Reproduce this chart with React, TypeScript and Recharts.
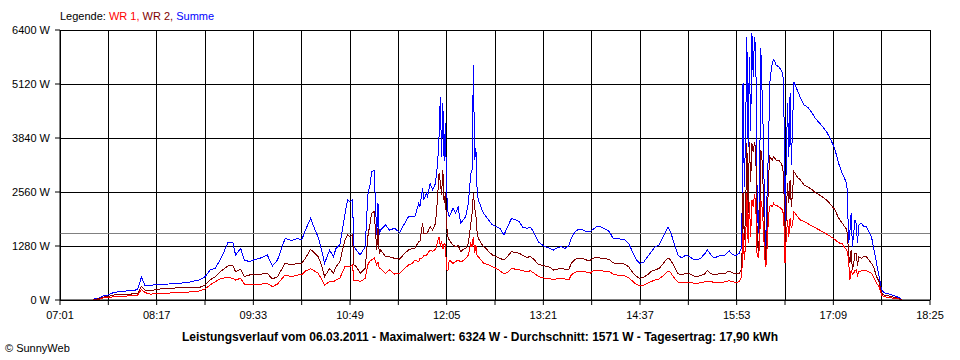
import { ComposedChart, Line, XAxis, YAxis, CartesianGrid, ReferenceLine } from 'recharts';

// Leistungsverlauf 06.03.2011
const times = [
    '07:27', '07:32', '07:35', '07:39', '07:43', '07:48', '07:54', '07:58', '08:02', '08:05',
    '08:08', '08:12', '08:20', '08:27', '08:35', '08:43', '08:51', '08:55', '08:59', '09:03',
    '09:08', '09:13', '09:17', '09:19', '09:23', '09:26', '09:30', '09:34', '09:38', '09:44',
    '09:48', '09:52', '09:58', '10:03', '10:08', '10:11', '10:14', '10:18', '10:20', '10:24',
    '10:27', '10:29', '10:33', '10:36', '10:38', '10:41', '10:45', '10:47', '10:49', '10:51',
    '10:52', '10:54', '10:57', '11:01', '11:03', '11:05', '11:06', '11:08', '11:10', '11:11',
    '11:12', '11:13', '11:17', '11:20', '11:24', '11:28', '11:32', '11:35', '11:38', '11:40',
    '11:43', '11:44', '11:46', '11:47', '11:49', '11:50', '11:52', '11:54', '11:56', '11:57',
    '11:58', '11:59', '12:00', '12:01', '12:02', '12:03', '12:04', '12:05', '12:06', '12:07',
    '12:10', '12:12', '12:14', '12:16', '12:18', '12:20', '12:22', '12:24', '12:25', '12:26',
    '12:27', '12:28', '12:29', '12:30', '12:32', '12:34', '12:36', '12:38', '12:41', '12:44',
    '12:47', '12:50', '12:53', '12:56', '12:59', '13:02', '13:05', '13:08', '13:11', '13:14',
    '13:17', '13:20', '13:23', '13:26', '13:29', '13:32', '13:35', '13:38', '13:41', '13:43',
    '13:46', '13:49', '13:52', '13:55', '13:58', '14:01', '14:04', '14:07', '14:10', '14:13',
    '14:16', '14:19', '14:22', '14:25', '14:28', '14:31', '14:34', '14:37', '14:40', '14:43',
    '14:46', '14:49', '14:52', '14:55', '14:57', '14:59', '15:01', '15:04', '15:07', '15:10',
    '15:13', '15:16', '15:19', '15:22', '15:25', '15:28', '15:30', '15:32', '15:35', '15:38',
    '15:41', '15:44', '15:47', '15:49', '15:52', '15:55', '15:57', '15:58', '15:59', '16:00',
    '16:01', '16:02', '16:03', '16:04', '16:05', '16:06', '16:07', '16:08', '16:09', '16:10',
    '16:11', '16:12', '16:13', '16:14', '16:15', '16:16', '16:17', '16:18', '16:19', '16:20',
    '16:21', '16:22', '16:23', '16:24', '16:26', '16:28', '16:29', '16:30', '16:31', '16:32',
    '16:33', '16:34', '16:35', '16:36', '16:37', '16:38', '16:39', '16:41', '16:43', '16:46',
    '16:49', '16:52', '16:55', '16:58', '17:01', '17:04', '17:07', '17:10', '17:13', '17:16',
    '17:19', '17:20', '17:21', '17:22', '17:23', '17:24', '17:25', '17:26', '17:27', '17:28',
    '17:29', '17:31', '17:33', '17:35', '17:37', '17:39', '17:41', '17:43', '17:45', '17:47',
    '17:49', '17:52', '17:55', '17:58', '18:01', '18:03',
];

const wr1 = [
    10, 20, 50, 55, 80, 85, 95, 110, 115, 250,
    174, 140, 158, 165, 174, 190, 215, 261, 356, 434,
    514, 537, 514, 474, 514, 379, 356, 363, 371, 395,
    316, 379, 593, 553, 593, 593, 687, 740, 711, 632,
    474, 356, 434, 434, 474, 514, 790, 790, 790, 830,
    474, 474, 434, 514, 830, 948, 948, 1000, 830, 900,
    750, 750, 632, 711, 616, 632, 750, 830, 870, 948,
    908, 987, 1000, 1050, 1050, 1100, 1185, 1150, 1200, 1264,
    1400, 1501, 1264, 1400, 1200, 1350, 1300, 711, 700, 948,
    870, 908, 948, 908, 930, 987, 1067, 1343, 1264, 1501,
    1106, 1300, 1027, 1027, 948, 869, 850, 830, 790, 750,
    690, 620, 650, 750, 730, 720, 690, 680, 690, 632,
    560, 530, 510, 500, 490, 500, 514, 500, 474, 593,
    660, 680, 680, 660, 640, 711, 711, 690, 680, 671,
    610, 593, 580, 575, 530, 450, 370, 332, 350, 400,
    440, 480, 500, 570, 630, 690, 650, 520, 420, 410,
    420, 420, 400, 395, 410, 430, 450, 440, 420, 419,
    420, 430, 460, 440, 420, 430, 550, 1580, 948, 1300,
    2528, 1343, 2330, 1500, 2370, 2200, 2500, 2300, 1106, 987,
    1300, 2370, 2200, 1738, 1000, 790, 1264, 1975, 2212, 2250,
    2212, 2291, 2250, 2250, 2212, 2170, 2133, 2000, 869, 1501,
    1896, 1501, 1936, 1700, 1800, 2094, 2054, 1970, 1900, 1857,
    1810, 1760, 1710, 1660, 1610, 1560, 1500, 1440, 1360, 1330,
    1200, 1150, 948, 474, 700, 600, 632, 700, 711, 580,
    670, 690, 711, 700, 660, 632, 514, 395, 316, 118,
    75, 65, 47, 35, 20, 5,
];

const wr2 = [
    10, 30, 70, 80, 118, 130, 130, 145, 150, 325,
    237, 221, 261, 275, 292, 296, 300, 356, 474, 553,
    695, 806, 806, 671, 727, 553, 593, 600, 608, 632,
    498, 553, 869, 830, 877, 869, 995, 1200, 1146, 1027,
    790, 553, 750, 632, 790, 908, 1422, 1541, 1501, 1541,
    830, 790, 632, 750, 1501, 1856, 2054, 2100, 1185, 1700,
    1100, 1185, 1027, 1027, 987, 970, 1106, 1185, 1220, 1225,
    1383, 1383, 1817, 1580, 1580, 1600, 1738, 1659, 1800, 2054,
    2500, 3003, 2800, 2500, 3081, 2300, 2528, 1738, 1500, 1422,
    1300, 1264, 1300, 1146, 1200, 1225, 1343, 1817, 2054, 2528,
    2200, 2000, 1580, 1462, 1343, 1264, 1225, 1146, 1067, 1027,
    987, 948, 1040, 1146, 1120, 1110, 1050, 1010, 1030, 948,
    850, 820, 800, 780, 711, 730, 750, 727, 720, 869,
    965, 987, 987, 948, 948, 1000, 1010, 987, 980, 960,
    880, 869, 860, 850, 790, 660, 560, 514, 540, 600,
    680, 711, 750, 850, 930, 1000, 950, 790, 620, 600,
    632, 620, 570, 560, 580, 620, 700, 640, 600, 616,
    625, 632, 690, 650, 620, 632, 750, 2567, 1422, 2000,
    3714, 2054, 3750, 2800, 3714, 3500, 3750, 3555, 1738, 1106,
    1620, 3555, 3300, 2528, 1422, 948, 1738, 2844, 3397, 3350,
    3318, 3397, 3360, 3318, 3318, 3240, 3160, 2923, 1185, 2054,
    2765, 2300, 2844, 2200, 2600, 3042, 3003, 2900, 2850, 2725,
    2680, 2620, 2540, 2490, 2430, 2360, 2260, 2150, 1950, 1820,
    1690, 1580, 1100, 869, 1185, 711, 850, 1100, 1106, 800,
    1027, 987, 1027, 1027, 950, 869, 750, 553, 435, 158,
    110, 100, 79, 55, 30, 5,
];

const summe = [
    20, 50, 100, 120, 175, 200, 215, 225, 245, 545,
    332, 350, 371, 380, 395, 427, 480, 553, 711, 750,
    1011, 1359, 1359, 1067, 1225, 948, 908, 960, 987, 1067,
    806, 948, 1462, 1406, 1462, 1422, 1659, 1936, 1778, 1485,
    1146, 869, 1185, 1027, 1225, 1304, 2015, 2370, 2330, 2370,
    1264, 1185, 1067, 1264, 2489, 2765, 3042, 3066, 1541, 2290,
    1541, 1659, 1778, 1659, 1699, 1600, 1817, 1975, 1975, 1975,
    2291, 2212, 2647, 2370, 2528, 2450, 2765, 2607, 2750, 2963,
    3300, 3871, 4819, 3400, 4662, 3300, 4188, 2528, 2100, 1975,
    2173, 2054, 2200, 1817, 1900, 1975, 2291, 3003, 3081, 5570,
    3318, 3600, 2528, 2370, 2200, 2054, 1975, 1896, 1780, 1738,
    1699, 1541, 1740, 1936, 1900, 1860, 1720, 1700, 1720, 1580,
    1380, 1310, 1260, 1225, 1185, 1240, 1264, 1225, 1280, 1462,
    1620, 1680, 1659, 1620, 1620, 1700, 1754, 1720, 1680, 1620,
    1450, 1462, 1440, 1422, 1343, 1150, 960, 869, 900, 1030,
    1150, 1264, 1304, 1480, 1620, 1720, 1620, 1320, 1050, 1000,
    1067, 1030, 964, 948, 1000, 1100, 1185, 1100, 1000, 1027,
    1060, 1067, 1169, 1100, 1050, 1106, 1264, 5136, 2686, 3871,
    6241, 3634, 5767, 4000, 6320, 5293, 6241, 5965, 2686, 1580,
    2528, 5965, 4900, 3871, 1896, 1106, 2686, 3555, 5136, 5400,
    5610, 5689, 5650, 5570, 5530, 5450, 5372, 5175, 1501, 3318,
    4662, 3400, 4898, 3200, 4200, 5175, 5096, 4950, 4800, 4622,
    4567, 4450, 4300, 4200, 4090, 3970, 3800, 3600, 3250, 3000,
    2800, 2607, 1343, 1600, 2054, 1264, 1580, 1900, 1817, 1343,
    1778, 1817, 1738, 1740, 1620, 1501, 1185, 869, 553, 237,
    170, 150, 118, 90, 50, 10,
];

const timeLabels = ['07:01', '08:17', '09:33', '10:49', '12:05', '13:21', '14:37', '15:53', '17:09', '18:25'];
const yTicks = [0, 1280, 2560, 3840, 5120, 6400];
const average = 1571;

const toMin = (s: string) => {
    const [h, m] = s.split(':').map(Number);
    return h * 60 + m;
};

const data = times.map((t, i) => ({ t: toMin(t), wr1: wr1[i], wr2: wr2[i], summe: summe[i] }));

const labelMins = timeLabels.map(toMin);
// grid lines every half label step
const xTicks: number[] = [];
labelMins.forEach((m, i) => {
    xTicks.push(m);
    if (i < labelMins.length - 1) xTicks.push((m + labelMins[i + 1]) / 2);
});

function fmtTime(v: number): string {
    const idx = labelMins.indexOf(v);
    return idx >= 0 ? timeLabels[idx] : '';
}

const font = '"Liberation Sans", Arial, sans-serif';
const tickStyle = { fontSize: 11, fill: '#000', fontFamily: font };

export default function App() {
    return (
        <div style={{ position: 'absolute', left: 0, top: 0, width: 960, height: 360, background: '#fff', fontFamily: font }}>
            {/* Legend */}
            <div style={{ position: 'absolute', left: 60, top: 10, fontSize: 11, lineHeight: '13px', whiteSpace: 'nowrap' }}>
                <span style={{ color: '#000' }}>Legende: </span>
                <span style={{ color: '#ff0000' }}>WR 1, </span>
                <span style={{ color: '#800000' }}>WR 2, </span>
                <span style={{ color: '#0000ff' }}>Summe</span>
            </div>

            <ComposedChart width={960} height={360} data={data} margin={{ top: 30, right: 30, bottom: 30, left: 0 }}>
                <CartesianGrid stroke="#000" shapeRendering="crispEdges" />
                <XAxis
                    dataKey="t"
                    type="number"
                    domain={[labelMins[0], labelMins[labelMins.length - 1]]}
                    ticks={xTicks}
                    interval={0}
                    tickFormatter={fmtTime}
                    tick={tickStyle}
                    tickSize={5}
                    tickMargin={6}
                    height={30}
                    stroke="#000"
                    axisLine={{ stroke: '#000' }}
                    tickLine={{ stroke: '#000' }}
                />
                <YAxis
                    domain={[0, 6400]}
                    ticks={yTicks}
                    interval={0}
                    tickFormatter={(v: number) => `${v} W`}
                    tick={tickStyle}
                    tickSize={5}
                    tickMargin={5}
                    width={60}
                    stroke="#000"
                    axisLine={{ stroke: '#000' }}
                    tickLine={{ stroke: '#000' }}
                />
                <ReferenceLine y={average} stroke="#808080" shapeRendering="crispEdges" />
                <Line type="linear" dataKey="summe" stroke="#0000ff" strokeWidth={1} dot={false} shapeRendering="crispEdges" isAnimationActive={false} />
                <Line type="linear" dataKey="wr2" stroke="#800000" strokeWidth={1} dot={false} shapeRendering="crispEdges" isAnimationActive={false} />
                <Line type="linear" dataKey="wr1" stroke="#ff0000" strokeWidth={1} dot={false} shapeRendering="crispEdges" isAnimationActive={false} />
            </ComposedChart>

            {/* Title */}
            <div style={{ position: 'absolute', left: 0, width: 960, top: 330, textAlign: 'center', fontSize: 12, fontWeight: 'bold', lineHeight: '14px', whiteSpace: 'nowrap' }}>
                Leistungsverlauf vom 06.03.2011 - Maximalwert: 6324 W - Durchschnitt: 1571 W - Tagesertrag: 17,90 kWh
            </div>
            <div style={{ position: 'absolute', left: 5, top: 342, fontSize: 11, lineHeight: '13px', whiteSpace: 'nowrap' }}>
                © SunnyWeb
            </div>
        </div>
    );
}
